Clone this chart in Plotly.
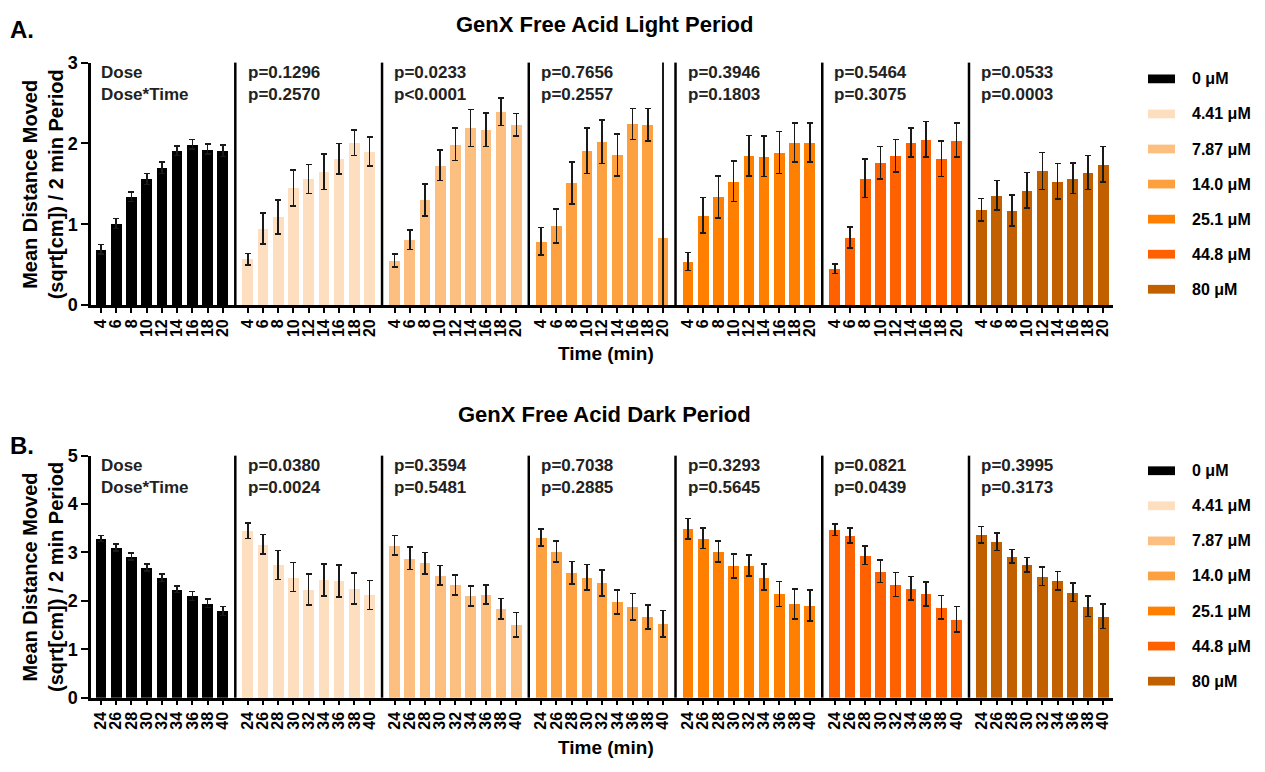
import plotly.graph_objects as go

# ---------------- data ----------------
doses = ["0 μM", "4.41 μM", "7.87 μM", "14.0 μM", "25.1 μM", "44.8 μM", "80 μM"]
colors = ["#000000", "#FDDEBF", "#FDBF80", "#FDA040", "#FF8000", "#FF6000", "#C26000"]

light_times = [4, 6, 8, 10, 12, 14, 16, 18, 20]
dark_times = [24, 26, 28, 30, 32, 34, 36, 38, 40]

light_mean = [
    [0.69, 1.01, 1.34, 1.56, 1.70, 1.91, 1.99, 1.93, 1.91],
    [0.57, 0.95, 1.09, 1.45, 1.56, 1.65, 1.81, 2.01, 1.90],
    [0.55, 0.81, 1.30, 1.73, 1.99, 2.19, 2.17, 2.39, 2.23],
    [0.79, 0.98, 1.51, 1.91, 2.02, 1.86, 2.24, 2.23, 0.83],
    [0.54, 1.11, 1.34, 1.53, 1.85, 1.84, 1.89, 2.01, 2.01],
    [0.45, 0.84, 1.57, 1.76, 1.85, 2.01, 2.05, 1.81, 2.04],
    [1.18, 1.36, 1.17, 1.42, 1.66, 1.53, 1.57, 1.64, 1.74],
]
light_err = [
    [0.06, 0.06, 0.06, 0.07, 0.07, 0.06, 0.06, 0.06, 0.07],
    [0.07, 0.19, 0.21, 0.22, 0.18, 0.22, 0.19, 0.16, 0.18],
    [0.08, 0.12, 0.20, 0.19, 0.20, 0.23, 0.21, 0.17, 0.14],
    [0.17, 0.21, 0.26, 0.28, 0.27, 0.26, 0.19, 0.20, 2.60],
    [0.11, 0.22, 0.26, 0.25, 0.25, 0.25, 0.26, 0.24, 0.24],
    [0.06, 0.13, 0.24, 0.20, 0.20, 0.18, 0.22, 0.22, 0.21],
    [0.14, 0.18, 0.19, 0.22, 0.23, 0.22, 0.19, 0.21, 0.22],
]
dark_mean = [
    [3.29, 3.10, 2.92, 2.69, 2.48, 2.24, 2.10, 1.95, 1.79],
    [3.45, 3.17, 2.74, 2.49, 2.24, 2.43, 2.41, 2.26, 2.12],
    [3.15, 2.88, 2.78, 2.53, 2.33, 2.10, 2.13, 1.84, 1.51],
    [3.31, 3.02, 2.58, 2.49, 2.37, 1.98, 1.88, 1.67, 1.53],
    [3.49, 3.29, 3.02, 2.72, 2.73, 2.49, 2.14, 1.94, 1.90],
    [3.47, 3.35, 2.94, 2.61, 2.34, 2.26, 2.14, 1.87, 1.62],
    [3.37, 3.22, 2.92, 2.75, 2.51, 2.42, 2.18, 1.89, 1.68],
]
dark_err = [
    [0.06, 0.07, 0.07, 0.07, 0.08, 0.07, 0.09, 0.09, 0.09],
    [0.16, 0.20, 0.30, 0.30, 0.32, 0.33, 0.33, 0.32, 0.30],
    [0.20, 0.23, 0.22, 0.20, 0.21, 0.21, 0.20, 0.21, 0.25],
    [0.18, 0.22, 0.23, 0.26, 0.27, 0.25, 0.27, 0.25, 0.27],
    [0.21, 0.21, 0.22, 0.25, 0.22, 0.27, 0.26, 0.31, 0.32],
    [0.12, 0.15, 0.19, 0.23, 0.25, 0.24, 0.25, 0.24, 0.26],
    [0.17, 0.18, 0.14, 0.15, 0.19, 0.19, 0.19, 0.21, 0.25],
]
light_p = [("Dose", "Dose*Time"), ("p=0.1296", "p=0.2570"), ("p=0.0233", "p<0.0001"),
           ("p=0.7656", "p=0.2557"), ("p=0.3946", "p=0.1803"), ("p=0.5464", "p=0.3075"),
           ("p=0.0533", "p=0.0003")]
dark_p = [("Dose", "Dose*Time"), ("p=0.0380", "p=0.0024"), ("p=0.3594", "p=0.5481"),
          ("p=0.7038", "p=0.2885"), ("p=0.3293", "p=0.5645"), ("p=0.0821", "p=0.0439"),
          ("p=0.3995", "p=0.3173")]

# ---------------- layout constants ----------------
W, H = 1265, 772
FONT = "Liberation Sans, Arial, sans-serif"
P = 9.64          # group period in bar slots
n = len(light_times)
XR = [-0.66, 6 * P + n - 1 + 0.64]

def px(x):
    return x / W

def py(y):
    return 1 - y / H

fig = go.Figure()

panels = [
    dict(times=light_times, mean=light_mean, err=light_err, p=light_p, xa="x", ya="y"),
    dict(times=dark_times, mean=dark_mean, err=dark_err, p=dark_p, xa="x2", ya="y2"),
]

annotations = []
shapes = []

for pi, pn in enumerate(panels):
    tickvals, ticktext = [], []
    for g in range(len(doses)):
        xs = [g * P + i for i in range(n)]
        tickvals += xs
        ticktext += [str(t) for t in pn["times"]]
        fig.add_trace(go.Bar(
            x=xs, y=pn["mean"][g], width=0.7,
            marker=dict(color=colors[g], line=dict(width=0)),
            error_y=dict(type="data", array=pn["err"][g], visible=True,
                         color="#1a1a1a", thickness=1.6, width=3),
            xaxis=pn["xa"], yaxis=pn["ya"], showlegend=False, name=doses[g],
        ))
        # separators
        if g > 0:
            sx = g * P - (P - (n - 1)) / 2
            shapes.append(dict(type="line", xref=pn["xa"], yref=pn["ya"] + " domain",
                               x0=sx, x1=sx, y0=0, y1=1,
                               line=dict(color="black", width=2.5)))
        # p-value text
        annotations.append(dict(
            xref=pn["xa"], yref=pn["ya"] + " domain", x=g * P - 0.15, y=1,
            xanchor="left", yanchor="top", yshift=2, align="left", showarrow=False,
            text=pn["p"][g][0] + "<br>" + pn["p"][g][1],
            font=dict(family=FONT, size=17, color="#222", weight="bold"),
        ))
    ax = dict(
        range=XR, tickmode="array", tickvals=tickvals, ticktext=ticktext,
        tickangle=-90, ticks="outside", ticklen=5, tickwidth=2, tickcolor="black",
        showline=True, linewidth=2.5, linecolor="black", showgrid=False, zeroline=False,
        tickfont=dict(family=FONT, size=16, color="black", weight="bold"),
        domain=[px(91), px(1113)], fixedrange=True,
    )
    if pi == 0:
        fig.update_layout(xaxis=dict(ax, anchor="y"))
    else:
        fig.update_layout(xaxis2=dict(ax, anchor="y2"))

yax_common = dict(ticks="outside", ticklen=7, tickwidth=2, tickcolor="black",
                  showline=True, linewidth=2.5, linecolor="black", showgrid=False,
                  zeroline=False, tickfont=dict(family=FONT, size=18, color="black", weight="bold"))
fig.update_layout(
    yaxis=dict(yax_common, range=[0, 3], tickvals=[0, 1, 2, 3], anchor="x",
               domain=[py(303), py(54)]),
    yaxis2=dict(yax_common, range=[0, 5], tickvals=[0, 1, 2, 3, 4, 5], anchor="x2",
                domain=[py(706), py(457.5)]),
)

# titles and labels
def txt(x, y, s, size, xanchor="center", angle=0):
    annotations.append(dict(xref="paper", yref="paper", x=px(x), y=py(y), text=s,
                            showarrow=False, xanchor=xanchor, yanchor="middle",
                            textangle=angle,
                            font=dict(family=FONT, size=size, color="black", weight="bold")))

txt(604, 15, "GenX Free Acid Light Period", 22)
txt(604, 415, "GenX Free Acid Dark Period", 22)
txt(8, 20, "A.", 24, xanchor="left")
txt(8, 447, "B.", 24, xanchor="left")
txt(606, 353, "Time (min)", 19)
txt(606, 757, "Time (min)", 19)
txt(43, 179, "Mean Distance Moved<br>(sqrt[cm]) / 2 min Period", 20, angle=-90)
txt(43, 582, "Mean Distance Moved<br>(sqrt[cm]) / 2 min Period", 20, angle=-90)

# manual legends
for top in (70.7, 473):
    for k, (d, c) in enumerate(zip(doses, colors)):
        yc = top + 36 * k
        shapes.append(dict(type="rect", xref="paper", yref="paper",
                           x0=px(1148), x1=px(1175), y0=py(yc + 4.5), y1=py(yc - 4.5),
                           fillcolor=c, line=dict(width=0)))
        txt(1190, yc, d, 16, xanchor="left")

fig.update_layout(
    width=W, height=H, margin=dict(l=0, r=0, t=0, b=0),
    paper_bgcolor="white", plot_bgcolor="white", bargap=0,
    annotations=annotations, shapes=shapes, showlegend=False,
)

fig.write_html("out.html")
